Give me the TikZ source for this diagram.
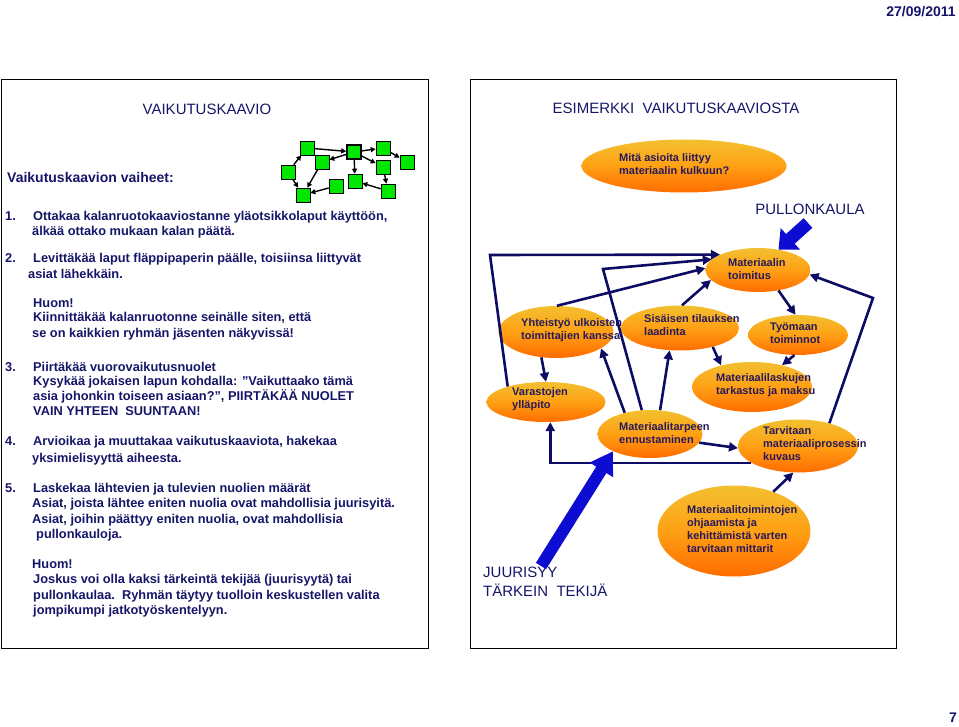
\documentclass[tikz,border=0pt]{standalone}
\usepackage{fontspec}
\setmainfont{Liberation Sans}
\usetikzlibrary{shapes.geometric,arrows.meta,calc}
\definecolor{navy}{RGB}{22,22,105}
\definecolor{linknavy}{RGB}{12,12,100}
\definecolor{brightblue}{RGB}{12,12,210}
\definecolor{boxgreen}{RGB}{0,230,0}
\definecolor{bubtop}{RGB}{242,192,48}
\definecolor{bubmid}{RGB}{255,160,20}
\definecolor{bubbot}{RGB}{255,108,0}
\definecolor{bubtext}{RGB}{40,25,90}

\begin{document}
\begin{tikzpicture}[x=1pt,y=-1pt,
    body/.style={font=\fontsize{12.8}{15}\selectfont\bfseries, text=navy, anchor=base west, inner sep=0},
    title/.style={font=\fontsize{15}{19}\selectfont, text=navy, inner sep=0},
    sq/.style={draw=black, fill=boxgreen, minimum size=14pt, inner sep=0, line width=0.6pt},
    lnk/.style={-{Triangle[width=5pt,length=5pt]}, line width=1.4pt},
    bubble/.style={ellipse, inner sep=0, top color=bubtop, bottom color=bubbot, middle color=bubmid},
    btxt/.style={font=\fontsize{11}{13}\selectfont\bfseries, text=bubtext, align=left, anchor=west, inner sep=0},
    con/.style={draw=linknavy, line width=2.6pt, -{Triangle[width=9pt,length=9pt]}},
    big/.style={draw=brightblue, line width=13pt, -{Triangle[width=28pt,length=16pt]}}]

    \useasboundingbox (0,0) rectangle (959,727);

    % Frames
    \draw[line width=0.8pt] (1,79) rectangle (428,648);
    \draw[line width=0.8pt] (470,79) rectangle (896,648);

    % Date and page number
    \node[font=\fontsize{14}{16}\selectfont\bfseries, text=navy] (date) at (921,12) {27/09/2011};
    \node[font=\fontsize{14}{16}\selectfont\bfseries, text=navy] (page) at (953,718) {7};

    % Left side: steps
    \node[title] (lefttitle) at (207,109) {VAIKUTUSKAAVIO};
    \node[body, font=\fontsize{14}{16}\selectfont\bfseries] (phases) at (7,183) {Vaikutuskaavion vaiheet:};

    \node[body] (n1) at (5,221) {1.};
    \node[body] (s1a) at (33,221) {Ottakaa kalanruotokaaviostanne yläotsikkolaput käyttöön,};
    \node[body] (s1b) at (32,236) {älkää ottako mukaan kalan päätä.};
    \node[body] (n2) at (5,263) {2.};
    \node[body] (s2a) at (33,263) {Levittäkää laput fläppipaperin päälle, toisiinsa liittyvät};
    \node[body] (s2b) at (28,279) {asiat lähekkäin.};
    \node[body] (h1a) at (33,308) {Huom!};
    \node[body] (h1b) at (33,322) {Kiinnittäkää kalanruotonne seinälle siten, että};
    \node[body] (h1c) at (32,338) {se on kaikkien ryhmän jäsenten näkyvissä!};
    \node[body] (n3) at (5,372) {3.};
    \node[body] (s3a) at (33,372) {Piirtäkää vuorovaikutusnuolet};
    \node[body] (s3b) at (33,386) {Kysykää jokaisen lapun kohdalla: ”Vaikuttaako tämä};
    \node[body] (s3c) at (33,401) {asia johonkin toiseen asiaan?”, PIIRTÄKÄÄ NUOLET};
    \node[body] (s3d) at (33,415) {VAIN YHTEEN\ \ SUUNTAAN!};
    \node[body] (n4) at (5,446) {4.};
    \node[body] (s4a) at (33,446) {Arvioikaa ja muuttakaa vaikutuskaaviota, hakekaa};
    \node[body] (s4b) at (32,462) {yksimielisyyttä aiheesta.};
    \node[body] (n5) at (5,492) {5.};
    \node[body] (s5a) at (33,492) {Laskekaa lähtevien ja tulevien nuolien määrät};
    \node[body] (s5b) at (32,507) {Asiat, joista lähtee eniten nuolia ovat mahdollisia juurisyitä.};
    \node[body] (s5c) at (32,523) {Asiat, joihin päättyy eniten nuolia, ovat mahdollisia};
    \node[body] (s5d) at (36,538) {pullonkauloja.};
    \node[body] (h2a) at (32,568) {Huom!};
    \node[body] (h2b) at (33,583) {Joskus voi olla kaksi tärkeintä tekijää (juurisyytä) tai};
    \node[body] (h2c) at (33,599) {pullonkaulaa.\ \ Ryhmän täytyy tuolloin keskustellen valita};
    \node[body] (h2d) at (33,614) {jompikumpi jatkotyöskentelyyn.};

    % Small sketch of a chart
    \node[sq] (a) at (307,148) {};
    \node[sq] (b) at (322,162) {};
    \node[sq] (c) at (288,172) {};
    \node[sq] (d) at (303,195) {};
    \node[sq] (e) at (336,186) {};
    \node[sq, line width=1.5pt] (f) at (354,152) {};
    \node[sq] (g) at (355,181) {};
    \node[sq] (h) at (383,148) {};
    \node[sq] (i) at (383,167) {};
    \node[sq] (j) at (407,162) {};
    \node[sq] (k) at (388,191) {};
    \draw[lnk] (a) -- (f);
    \draw[lnk] (f) -- (b);
    \draw[lnk] (c) -- (a);
    \draw[lnk] (c) -- (d);
    \draw[lnk] (b) -- (d);
    \draw[lnk] (e) -- (d);
    \draw[lnk] (f) -- (h);
    \draw[lnk] (f) -- (g);
    \draw[lnk] (f) -- (i);
    \draw[lnk] (h) -- (j);
    \draw[lnk] (i) -- (k);
    \draw[lnk] (k) -- (g);

    % Right side: example
    \node[title] (righttitle) at (676,108) {ESIMERKKI\ \ VAIKUTUSKAAVIOSTA};
    \node[title] (pk) at (810,209) {PULLONKAULA};
    \node[title, align=left, anchor=west] (js) at (483,582) {JUURISYY\\TÄRKEIN\ \ TEKIJÄ};

    % Bubbles
    \node[bubble, minimum width=205pt, minimum height=53pt] (q) at (684,166) {};
    \node[btxt] (qlab) at (619,164.5) {Mitä asioita liittyy\\materiaalin kulkuun?};
    \node[bubble, minimum width=105pt, minimum height=44pt] (toim) at (758,270) {};
    \node[btxt] (toimlab) at (728,269.5) {Materiaalin\\toimitus};
    \node[bubble, minimum width=115pt, minimum height=52pt] (yht) at (556,332) {};
    \node[btxt] (yhtlab) at (521,330) {Yhteistyö ulkoisten\\toimittajien kanssa};
    \node[bubble, minimum width=118pt, minimum height=45pt] (sis) at (680,328) {};
    \node[btxt] (sislab) at (644,325.5) {Sisäisen tilauksen\\laadinta};
    \node[bubble, minimum width=100pt, minimum height=40pt] (tyo) at (798,335) {};
    \node[btxt] (tyolab) at (770,333.5) {Työmaan\\toiminnot};
    \node[bubble, minimum width=120pt, minimum height=50pt] (lask) at (752,387) {};
    \node[btxt] (lasklab) at (716,385.5) {Materiaalilaskujen\\tarkastus ja maksu};
    \node[bubble, minimum width=119pt, minimum height=40pt] (var) at (546,402) {};
    \node[btxt] (varlab) at (512,399.5) {Varastojen\\ylläpito};
    \node[bubble, minimum width=105pt, minimum height=48pt] (enn) at (650,434) {};
    \node[btxt] (ennlab) at (619,433) {Materiaalitarpeen\\ennustaminen};
    \node[bubble, minimum width=120pt, minimum height=53pt] (tarv) at (798,446) {};
    \node[btxt] (tarvlab) at (763,444) {Tarvitaan\\materiaaliprosessin\\kuvaus};
    \node[bubble, minimum width=153pt, minimum height=91pt] (mitt) at (734,531) {};
    \node[btxt] (mittlab) at (687,529) {Materiaalitoimintojen\\ohjaamista ja\\kehittämistä varten\\tarvitaan mittarit};

    % Links
    \coordinate (c1) at (490,255);
    \coordinate (c2) at (603,269);
    \coordinate (c3) at (873,298);
    \draw[con] (var.158) -- (c1) -- (toim.158);
    \draw[con] (enn.109) -- (c2) -- (toim.167);
    \draw[con] (yht.88) -- (toim.178);
    \draw[con] (sis.85) -- (toim.192);
    \draw[con] (yht.240) -- (var.90);
    \draw[con] (enn.140) -- (yht.340);
    \draw[con] (enn.67) -- (sis.245);
    \draw[con] (sis.330) -- (lask.145);
    \draw[con] (toim.315) -- (tyo.97);
    \draw[con] (tyo.260) -- (lask.36);
    \draw[con] (tarv.36) -- (c3) -- (toim.355);
    \draw[con] (tarv.200) -| (var.282);
    \draw[con] (enn.350) -- (tarv.182);
    \draw[con] (mitt.45) -- (tarv.260);

    % Bottleneck and root cause
    \coordinate (pktail) at (808,223);
    \coordinate (jstail) at (541,566);
    \draw[big] (pktail) -- (toim.45);
    \draw[big, line width=12pt, -{Triangle[width=26pt,length=22pt]}] (jstail) -- (enn.205);
\end{tikzpicture}
\end{document}
